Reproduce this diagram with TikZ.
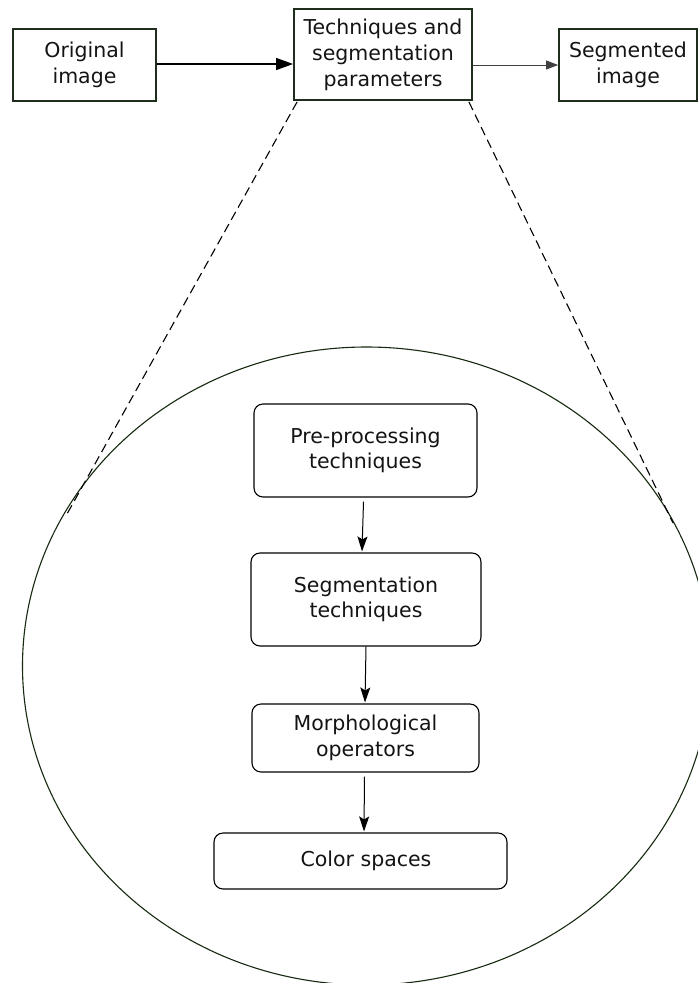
\documentclass[tikz,border=0pt]{standalone}
\usepackage{fontspec}
\setmainfont{DejaVu Sans}
\usetikzlibrary{arrows.meta,calc}

\definecolor{edgegreen}{RGB}{30,45,28}
\definecolor{ringgreen}{RGB}{22,42,16}
\definecolor{inkgrey}{RGB}{20,20,20}

\tikzset{
  topbox/.style={draw=edgegreen, line width=1.8pt, fill=white, align=center,
    inner sep=0pt, text=inkgrey,
    font=\fontsize{20.5}{26}\selectfont},
  stagebox/.style={draw=black, line width=1.1pt, rounded corners=9pt,
    fill=white, align=center, inner sep=0pt, text=inkgrey,
    font=\fontsize{20.5}{25.5}\selectfont},
  mainflow/.style={line width=1.4pt, -{Triangle[length=17pt,width=12pt]}},
  sideflow/.style={line width=0.9pt, draw=black!75,
    -{Triangle[length=12pt,width=9pt]}},
  stageflow/.style={line width=1pt, -{Stealth[length=15pt,width=10pt,inset=3pt]}},
  zoomline/.style={line width=1.1pt, dash pattern=on 9pt off 5pt},
}

\begin{document}
\begin{tikzpicture}[x=1pt, y=-1pt]
  \useasboundingbox (0,0) rectangle (698,983);
  \fill[white] (0,0) rectangle (698,983);

  % magnified view of the middle step
  \draw[ringgreen, line width=1.1pt] (366.5,666) ellipse [x radius=344, y radius=319];

  % top-level pipeline
  \node[topbox, minimum width=143pt, minimum height=72pt] (orig) at (84.5,65)
    {Original\\image};
  \node[topbox, minimum width=178pt, minimum height=91pt] (tech) at (383,54.5)
    {Techniques and\\segmentation\\parameters};
  \node[topbox, minimum width=138pt, minimum height=72pt] (segimg) at (628,65)
    {Segmented\\image};

  \draw[mainflow] ($(orig.east)+(0,-1)$) -- ($(orig.east -| tech.west)+(0,-1)$);
  \draw[sideflow] (segimg.west -| tech.east) -- (segimg.west);

  % zoom guide lines
  \coordinate (zl) at (67,514);
  \coordinate (zr) at (673,523);
  \draw[zoomline] ($(tech.south west)+(4,1)$) -- (zl);
  \draw[zoomline] ($(tech.south east)+(-4,1)$) -- (zr);

  % stages inside the magnified view
  \node[stagebox, minimum width=223pt, minimum height=93pt] (pre) at (365.5,450.5)
    {Pre-processing\\techniques};
  \node[stagebox, minimum width=230pt, minimum height=93pt] (segt) at (366,599.5)
    {Segmentation\\techniques};
  \node[stagebox, minimum width=227pt, minimum height=68pt] (morph) at (365.5,738)
    {Morphological\\operators};
  \node[stagebox, minimum width=293pt, minimum height=56pt] (cspace) at (360.5,861)
    {\hspace*{11pt}Color spaces};

  \draw[stageflow] ($(pre.south)+(-2,4)$) -- ($(segt.north)+(-4,-1)$);
  \draw[stageflow] (segt.south) -- ($(morph.north)+(-0.5,-1)$);
  \draw[stageflow] ($(morph.south)+(-1,4)$) -- ($(cspace.north)+(3.5,-1)$);
\end{tikzpicture}
\end{document}
